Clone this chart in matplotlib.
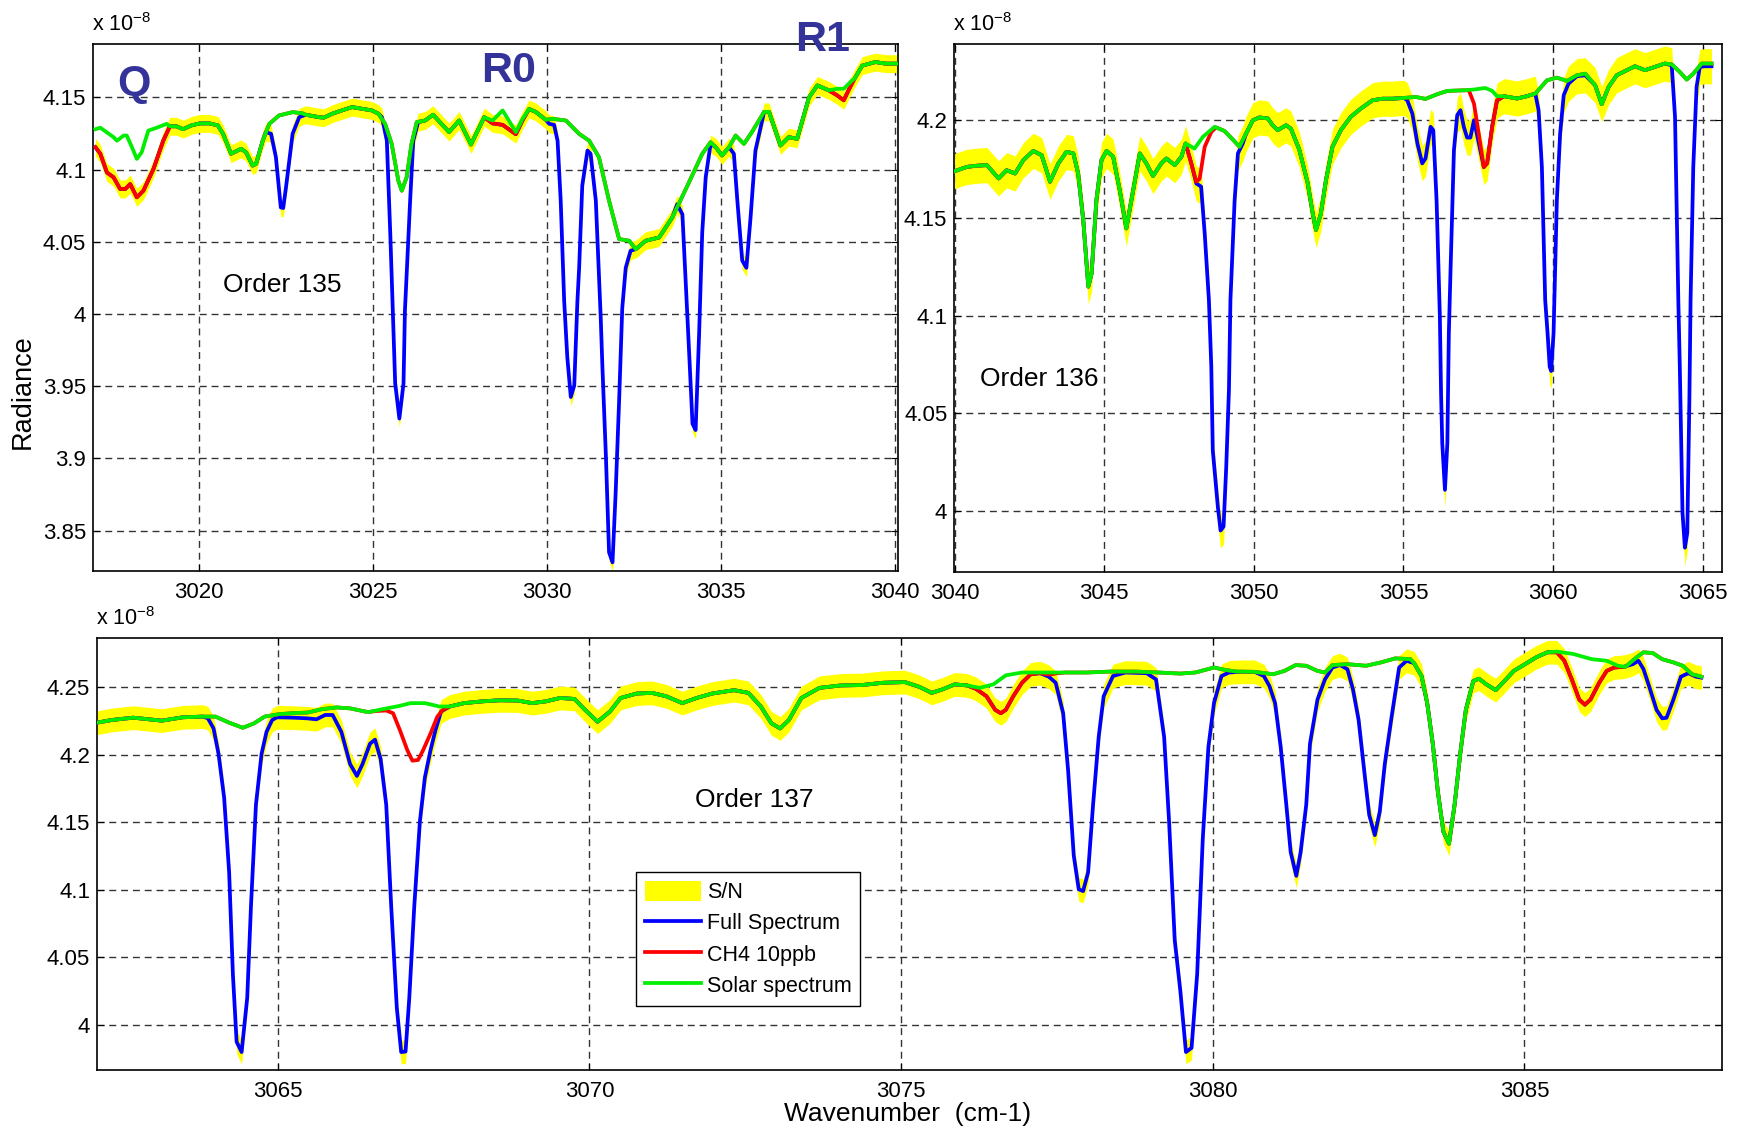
import numpy as np
import matplotlib
matplotlib.use('Agg')
import matplotlib.pyplot as plt
from matplotlib.patches import Patch
from matplotlib.lines import Line2D
from matplotlib.ticker import FuncFormatter

plt.rcParams['font.family'] = ['Liberation Sans', 'DejaVu Sans']
plt.rcParams['mathtext.default'] = 'regular'

# ---- Order 135 (values in units of 1e-8) ----
o135_wn = [3017.02, 3017.16, 3017.35, 3017.54, 3017.73, 3017.88, 3018.02, 3018.21, 3018.40, 3018.69,
           3018.97, 3019.16, 3019.35, 3019.54, 3019.78, 3020.02, 3020.30, 3020.54, 3020.69, 3020.92,
           3021.21, 3021.35, 3021.54, 3021.64, 3021.83, 3021.92, 3022.07, 3022.21, 3022.35, 3022.42,
           3022.50, 3022.69, 3022.88, 3023.07, 3023.45, 3023.59, 3023.83, 3024.11, 3024.40, 3024.69,
           3024.97, 3025.16, 3025.26, 3025.40, 3025.50, 3025.59, 3025.64, 3025.76, 3025.88, 3025.92,
           3026.07, 3026.16, 3026.30, 3026.50, 3026.73, 3026.92, 3027.19, 3027.48, 3027.82, 3028.20,
           3028.44, 3028.73, 3029.11, 3029.30, 3029.49, 3029.68, 3029.97, 3030.07, 3030.21, 3030.31,
           3030.40, 3030.50, 3030.59, 3030.69, 3030.79, 3030.88, 3030.93, 3031.02, 3031.17, 3031.26,
           3031.41, 3031.55, 3031.60, 3031.70, 3031.79, 3031.89, 3031.98, 3032.08, 3032.17, 3032.27,
           3032.41, 3032.56, 3032.84, 3033.23, 3033.61, 3033.75, 3033.90, 3034.00, 3034.10, 3034.19,
           3034.28, 3034.38, 3034.47, 3034.57, 3034.71, 3034.86, 3035.04, 3035.24, 3035.38, 3035.48,
           3035.62, 3035.74, 3035.86, 3036.00, 3036.25, 3036.39, 3036.72, 3036.96, 3037.20, 3037.54,
           3037.78, 3038.11, 3038.35, 3038.54, 3038.70, 3038.85, 3039.07, 3039.45, 3039.74, 3040.10]
o135_full = [4.1155, 4.111, 4.098, 4.0947, 4.0866, 4.0866, 4.090, 4.0808, 4.0854, 4.1005,
             4.120, 4.130, 4.130, 4.128, 4.1306, 4.132, 4.132, 4.1306, 4.1248, 4.111,
             4.1144, 4.112, 4.1028, 4.104, 4.120, 4.126, 4.1248, 4.1086, 4.0738, 4.0734,
             4.0877, 4.1248, 4.1363, 4.138, 4.1363, 4.136, 4.1387, 4.141, 4.1433, 4.1421,
             4.141, 4.1387, 4.1363, 4.120, 4.055, 3.988, 3.952, 3.9276, 3.952, 4.002,
             4.0785, 4.120, 4.1329, 4.134, 4.138, 4.133, 4.126, 4.134, 4.1174, 4.1363,
             4.132, 4.131, 4.1245, 4.134, 4.142, 4.140, 4.1345, 4.1317, 4.131, 4.120,
             4.0785, 4.009, 3.970, 3.9425, 3.9505, 4.0087, 4.0317, 4.0889, 4.1132, 4.111,
             4.0785, 3.998, 3.963, 3.9014, 3.835, 3.828, 3.876, 3.940, 4.004, 4.032,
             4.0438, 4.0449, 4.0507, 4.053, 4.0669, 4.076, 4.069, 4.020, 3.970, 3.924,
             3.9196, 3.986, 4.0565, 4.0947, 4.1178, 4.1155, 4.1098, 4.1155, 4.111, 4.0785,
             4.037, 4.032, 4.0669, 4.1132, 4.140, 4.140, 4.1167, 4.1225, 4.1213, 4.150,
             4.1583, 4.1549, 4.1514, 4.148, 4.156, 4.163, 4.172, 4.1745, 4.1734, 4.1734]
o135_solar_wn = [[3017.02, 3017.16, 3017.54, 3017.64, 3017.83, 3017.92, 3018.07, 3018.21, 3018.35, 3018.54, 3018.78, 3019.07, 3019.16],
                 [3021.83, 3022.02, 3022.30, 3022.69, 3022.97, 3023.07],
                 [3025.16, 3025.35, 3025.54, 3025.73, 3025.83, 3025.97, 3026.11, 3026.26, 3026.50],
                 [3028.20, 3028.44, 3028.73, 3029.11, 3029.30, 3029.49],
                 [3029.97, 3030.16, 3030.55, 3030.93, 3031.22, 3031.50, 3031.79, 3032.08, 3032.37, 3032.56],
                 [3033.61, 3034.09, 3034.47, 3034.71],
                 [3035.24, 3035.43, 3035.67, 3035.90, 3036.25],
                 [3038.11, 3038.35, 3038.54, 3038.78, 3038.85]]
o135_solar = [[4.128, 4.129, 4.1225, 4.120, 4.1236, 4.1236, 4.1155, 4.1074, 4.112, 4.127, 4.129, 4.1317, 4.130],
              [4.120, 4.1317, 4.1375, 4.1398, 4.139, 4.138],
              [4.1387, 4.1317, 4.1178, 4.0924, 4.0854, 4.0947, 4.1178, 4.1329, 4.134],
              [4.1363, 4.134, 4.141, 4.126, 4.135, 4.142],
              [4.1345, 4.1352, 4.134, 4.1248, 4.120, 4.1086, 4.0785, 4.0519, 4.0507, 4.0449],
              [4.0669, 4.0912, 4.1109, 4.119],
              [4.1155, 4.1236, 4.1178, 4.126, 4.140],
              [4.1549, 4.156, 4.156, 4.1618, 4.163]]
o135_ch4_wn = [[3017.02, 3017.16, 3017.35, 3017.54, 3017.73, 3017.88, 3018.02, 3018.21, 3018.40, 3018.69, 3018.97, 3019.16],
               [3028.20, 3028.44, 3028.73, 3029.11, 3029.30, 3029.49],
               [3037.78, 3038.11, 3038.35, 3038.54, 3038.70, 3038.85]]
o135_ch4 = [[4.1155, 4.111, 4.098, 4.0947, 4.0866, 4.0866, 4.090, 4.0808, 4.0854, 4.1005, 4.120, 4.130],
            [4.1363, 4.132, 4.131, 4.1245, 4.134, 4.142],
            [4.1583, 4.1549, 4.1514, 4.148, 4.156, 4.163]]

# ---- Order 136 ----
o136_wn = [3040.00, 3040.41, 3040.74, 3041.08, 3041.47, 3041.74, 3042.02, 3042.30, 3042.63, 3042.91,
           3043.19, 3043.47, 3043.74, 3043.97, 3044.13, 3044.30, 3044.47, 3044.58, 3044.74, 3044.91,
           3045.08, 3045.30, 3045.52, 3045.74, 3045.97, 3046.19, 3046.41, 3046.63, 3046.91, 3047.08,
           3047.36, 3047.58, 3047.72, 3047.91, 3048.08, 3048.24, 3048.36, 3048.50, 3048.58, 3048.63,
           3048.80, 3048.89, 3048.99, 3049.08, 3049.17, 3049.22, 3049.36, 3049.47, 3049.63, 3049.74,
           3049.97, 3050.19, 3050.47, 3050.63, 3050.80, 3051.08, 3051.24, 3051.52, 3051.80, 3051.97,
           3052.08, 3052.24, 3052.41, 3052.63, 3052.91, 3053.24, 3053.58, 3053.97, 3054.30, 3054.63,
           3055.02, 3055.13, 3055.30, 3055.47, 3055.63, 3055.74, 3055.91, 3056.00, 3056.11, 3056.22,
           3056.26, 3056.30, 3056.39, 3056.47, 3056.52, 3056.58, 3056.69, 3056.80, 3056.91, 3057.02,
           3057.13, 3057.24, 3057.36, 3057.50, 3057.69, 3057.80, 3057.97, 3058.13, 3058.36, 3058.80,
           3059.13, 3059.41, 3059.52, 3059.63, 3059.74, 3059.82, 3059.89, 3059.94, 3060.02, 3060.13,
           3060.24, 3060.36, 3060.52, 3060.80, 3061.08, 3061.41, 3061.63, 3061.86, 3062.13, 3062.47,
           3062.74, 3063.08, 3063.41, 3063.74, 3063.97, 3064.08, 3064.19, 3064.24, 3064.33, 3064.41,
           3064.49, 3064.56, 3064.60, 3064.69, 3064.80, 3064.91, 3065.08, 3065.30]
o136_full = [4.1739, 4.1761, 4.1767, 4.177, 4.1702, 4.1744, 4.1727, 4.1796, 4.1843, 4.1821,
             4.1685, 4.1779, 4.1838, 4.183, 4.1727, 4.1489, 4.1148, 4.1216, 4.1591, 4.1796,
             4.1843, 4.1813, 4.1642, 4.1446, 4.1642, 4.183, 4.1779, 4.1714, 4.1779, 4.1804,
             4.177, 4.1813, 4.1881, 4.178, 4.1676, 4.166, 4.142, 4.108, 4.074, 4.031,
             4.002, 3.990, 3.992, 4.0227, 4.062, 4.108, 4.159, 4.183, 4.188, 4.193,
             4.200, 4.2014, 4.2009, 4.1974, 4.1949, 4.1974, 4.1957, 4.185, 4.168, 4.1523,
             4.1438, 4.152, 4.169, 4.1864, 4.1949, 4.2017, 4.206, 4.2102, 4.211, 4.211,
             4.2114, 4.2102, 4.2034, 4.188, 4.1779, 4.1804, 4.1966, 4.1949, 4.159, 4.0995,
             4.060, 4.0346, 4.0108, 4.0346, 4.091, 4.125, 4.1847, 4.2026, 4.2051, 4.1966,
             4.1911, 4.1911, 4.200, 4.1898, 4.176, 4.178, 4.197, 4.210, 4.2123, 4.2111,
             4.2123, 4.2136, 4.2051, 4.176, 4.108, 4.091, 4.0739, 4.0716, 4.091, 4.159,
             4.1932, 4.2128, 4.2187, 4.2225, 4.223, 4.2179, 4.2082, 4.217, 4.223, 4.2256,
             4.2276, 4.2256, 4.2273, 4.229, 4.2281, 4.2017, 4.108, 4.0739, 3.999, 3.9812,
             3.9888, 4.057, 4.108, 4.176, 4.217, 4.2273, 4.2276, 4.2276]
o136_solar_wn = [[3047.72, 3048.02, 3048.30, 3048.69, 3049.02, 3049.30, 3049.52, 3049.74, 3049.97],
                 [3055.02, 3055.41, 3055.74, 3056.13, 3056.47, 3057.02, 3057.36, 3057.74, 3057.97, 3058.13],
                 [3059.41, 3059.80, 3060.13, 3060.47, 3060.80, 3061.08],
                 [3063.97, 3064.24, 3064.47, 3064.69, 3064.97, 3065.30]]
o136_solar = [[4.1881, 4.1855, 4.1915, 4.1966, 4.1945, 4.1901, 4.1864, 4.1932, 4.200],
              [4.2114, 4.2119, 4.2109, 4.2133, 4.215, 4.2153, 4.2157, 4.2165, 4.215, 4.2123],
              [4.2136, 4.2204, 4.2218, 4.2201, 4.223, 4.2238],
              [4.2286, 4.2247, 4.2208, 4.2238, 4.229, 4.229]]
o136_ch4_wn = [[3047.72, 3047.91, 3048.08, 3048.19, 3048.36, 3048.58, 3048.74],
               [3057.19, 3057.36, 3057.52, 3057.69, 3057.80, 3057.97, 3058.13, 3058.36]]
o136_ch4 = [[4.1881, 4.178, 4.1685, 4.170, 4.1864, 4.194, 4.1963],
            [4.2153, 4.2085, 4.193, 4.176, 4.178, 4.1966, 4.2102, 4.2123]]

# ---- Order 137 ----
o137_wn = [3062.10, 3062.34, 3062.68, 3063.14, 3063.48, 3063.80, 3063.88, 3063.97, 3064.05, 3064.14,
           3064.22, 3064.28, 3064.34, 3064.42, 3064.51, 3064.57, 3064.65, 3064.74, 3064.82, 3064.91,
           3064.99, 3065.25, 3065.48, 3065.62, 3065.76, 3065.88, 3066.02, 3066.16, 3066.27, 3066.36,
           3066.48, 3066.56, 3066.65, 3066.74, 3066.82, 3066.91, 3066.98, 3067.05, 3067.11, 3067.19,
           3067.28, 3067.36, 3067.45, 3067.53, 3067.62, 3067.76, 3067.99, 3068.28, 3068.56, 3068.85,
           3069.08, 3069.30, 3069.53, 3069.76, 3069.93, 3070.13, 3070.33, 3070.50, 3070.76, 3071.00,
           3071.23, 3071.49, 3071.72, 3071.97, 3072.32, 3072.55, 3072.75, 3072.92, 3073.06, 3073.20,
           3073.40, 3073.69, 3074.03, 3074.37, 3074.71, 3075.06, 3075.29, 3075.49, 3075.66, 3075.86,
           3076.06, 3076.20, 3076.37, 3076.51, 3076.60, 3076.68, 3076.80, 3076.94, 3077.08, 3077.23,
           3077.37, 3077.48, 3077.60, 3077.68, 3077.77, 3077.85, 3077.92, 3078.00, 3078.08, 3078.17,
           3078.25, 3078.40, 3078.60, 3078.94, 3079.09, 3079.22, 3079.30, 3079.39, 3079.48, 3079.57,
           3079.66, 3079.75, 3079.84, 3079.93, 3080.02, 3080.14, 3080.26, 3080.43, 3080.67, 3080.82,
           3080.91, 3081.00, 3081.09, 3081.18, 3081.25, 3081.34, 3081.41, 3081.50, 3081.56, 3081.68,
           3081.80, 3081.92, 3082.04, 3082.16, 3082.25, 3082.34, 3082.43, 3082.51, 3082.60, 3082.68,
           3082.76, 3082.87, 3082.99, 3083.11, 3083.23, 3083.35, 3083.44, 3083.53, 3083.61, 3083.70,
           3083.79, 3083.88, 3083.97, 3084.06, 3084.18, 3084.27, 3084.39, 3084.54, 3084.68, 3084.83,
           3085.01, 3085.19, 3085.37, 3085.52, 3085.64, 3085.76, 3085.88, 3085.97, 3086.06, 3086.20,
           3086.32, 3086.44, 3086.59, 3086.74, 3086.83, 3086.91, 3087.00, 3087.12, 3087.21, 3087.28,
           3087.39, 3087.51, 3087.63, 3087.75, 3087.84]
o137_full = [4.2239, 4.2259, 4.2276, 4.2254, 4.2279, 4.2284, 4.2271, 4.2196, 4.2007, 4.1681,
             4.1128, 4.0374, 3.9872, 3.9796, 4.0198, 4.0877, 4.1631, 4.2007, 4.2171, 4.2259,
             4.2279, 4.2276, 4.2271, 4.2264, 4.2296, 4.2296, 4.2171, 4.1932, 4.1844, 4.1932,
             4.2083, 4.2113, 4.197, 4.1631, 4.0877, 4.0123, 3.9796, 3.980, 4.0198, 4.0877,
             4.1505, 4.1832, 4.2033, 4.2183, 4.2322, 4.2359, 4.2384, 4.2397, 4.2405, 4.2403,
             4.2384, 4.2397, 4.2422, 4.2415, 4.2334, 4.2246, 4.2322, 4.2422, 4.2455, 4.246,
             4.2435, 4.2384, 4.2422, 4.2455, 4.248, 4.246, 4.2359, 4.2234, 4.2196, 4.2259,
             4.2422, 4.2497, 4.2515, 4.2518, 4.2535, 4.254, 4.2505, 4.246, 4.2485, 4.2523,
             4.2515, 4.249, 4.2435, 4.2334, 4.2309, 4.2334, 4.2435, 4.2535, 4.2598, 4.2606,
             4.258, 4.2535, 4.2309, 4.1882, 4.1254, 4.1003, 4.099, 4.1128, 4.1631, 4.2133,
             4.2435, 4.2585, 4.2611, 4.2606, 4.256, 4.2133, 4.150, 4.0626, 4.0249, 3.9796,
             3.9827, 4.0374, 4.1379, 4.2058, 4.2384, 4.2585, 4.2611, 4.2616, 4.2616, 4.2585,
             4.251, 4.2384, 4.2058, 4.1631, 4.1279, 4.1103, 4.1279, 4.1631, 4.2083, 4.241,
             4.256, 4.2648, 4.2666, 4.2636, 4.2485, 4.2259, 4.1882, 4.1555, 4.1405, 4.158,
             4.1932, 4.2284, 4.2648, 4.2698, 4.268, 4.2585, 4.2384, 4.2083, 4.1731, 4.143,
             4.1342, 4.1631, 4.2007, 4.2334, 4.2548, 4.2565, 4.2523, 4.248, 4.2548, 4.2623,
             4.2673, 4.2724, 4.2761, 4.2761, 4.2699, 4.256, 4.241, 4.2372, 4.241, 4.2535,
             4.2623, 4.2648, 4.2653, 4.2673, 4.2698, 4.2636, 4.251, 4.2334, 4.2271, 4.2275,
             4.241, 4.258, 4.2606, 4.258, 4.2573]
o137_solar_wn = [[3063.80, 3064.00, 3064.22, 3064.44, 3064.62, 3064.79, 3065.02, 3065.25, 3065.48, 3065.71,
                  3065.94, 3066.16, 3066.45, 3066.68, 3066.96, 3067.13, 3067.36, 3067.59, 3067.76],
                 [3076.06, 3076.26, 3076.48, 3076.68, 3076.94, 3077.23, 3077.63, 3077.97, 3078.37, 3078.77,
                  3079.13, 3079.48, 3079.72, 3080.02, 3080.20, 3080.38, 3080.67, 3080.97, 3081.15, 3081.33,
                  3081.50, 3081.68, 3081.80, 3081.92, 3082.16, 3082.46, 3082.70, 3082.93, 3083.17, 3083.23],
                 [3085.37, 3085.52, 3085.78, 3086.08, 3086.32, 3086.50, 3086.62, 3086.80, 3086.91, 3087.06,
                  3087.21, 3087.39, 3087.54, 3087.69, 3087.84]]
o137_solar = [[4.2284, 4.2284, 4.2239, 4.2201, 4.2234, 4.2284, 4.2302, 4.231, 4.2314, 4.2339,
               4.2352, 4.2345, 4.2317, 4.2339, 4.2364, 4.2384, 4.2384, 4.2359, 4.2359],
              [4.2515, 4.2497, 4.2523, 4.259, 4.2611, 4.2611, 4.2611, 4.2611, 4.2618, 4.2618,
               4.2611, 4.2603, 4.2611, 4.2648, 4.263, 4.2618, 4.2616, 4.2598, 4.2623, 4.2666,
               4.2661, 4.2623, 4.2611, 4.2666, 4.2673, 4.2661, 4.2686, 4.2716, 4.271, 4.268],
              [4.2761, 4.2766, 4.2749, 4.271, 4.2698, 4.2661, 4.2653, 4.2724, 4.2761, 4.2755,
               4.271, 4.2686, 4.2661, 4.2598, 4.258]]
o137_ch4_wn = [[3066.56, 3066.74, 3066.85, 3066.96, 3067.08, 3067.16, 3067.25, 3067.33, 3067.45, 3067.56, 3067.65, 3067.76],
               [3076.06, 3076.20, 3076.37, 3076.51, 3076.60, 3076.68, 3076.80, 3076.94, 3077.08, 3077.23, 3077.37, 3077.50],
               [3085.52, 3085.64, 3085.76, 3085.88, 3085.97, 3086.06, 3086.20, 3086.32, 3086.44, 3086.59]]
o137_ch4 = [[4.2325, 4.2329, 4.2309, 4.2183, 4.2033, 4.1957, 4.1962, 4.2033, 4.2158, 4.2284, 4.2334, 4.2359],
            [4.2515, 4.249, 4.2435, 4.2334, 4.2309, 4.2334, 4.2435, 4.2535, 4.2598, 4.2606, 4.2595, 4.2605],
            [4.2761, 4.2699, 4.256, 4.241, 4.2372, 4.241, 4.2535, 4.2623, 4.2648, 4.2653]]

legend_labels = ['S/N', 'Full Spectrum', 'CH4 10ppb', 'Solar spectrum']


def merge(base_x, base_y, seg_x, seg_y):
    # replace the base curve by the given pieces inside each piece's range
    bx = np.asarray(base_x, float)
    by = np.asarray(base_y, float)
    keep = np.ones(len(bx), bool)
    xs, ys = [], []
    for px, py in zip(seg_x, seg_y):
        px = np.asarray(px, float)
        keep &= ~((bx >= px.min()) & (bx <= px.max()))
        xs.append(px)
        ys.append(np.asarray(py, float))
    xs.append(bx[keep])
    ys.append(by[keep])
    x = np.concatenate(xs)
    y = np.concatenate(ys)
    o = np.argsort(x, kind='stable')
    return x[o], y[o]


fig = plt.figure(figsize=(17.39, 11.33), dpi=100)
ax1 = fig.add_axes([0.05348, 0.49603, 0.46291, 0.46514])
ax2 = fig.add_axes([0.54876, 0.49488, 0.44146, 0.46628])
ax3 = fig.add_axes([0.05578, 0.05561, 0.93445, 0.38129])

c_yel, c_blue, c_red, c_green = '#ffff00', '#0000ff', '#ff0000', '#00ee00'
lw = 2.7

panels = [
    (ax1, o135_wn, o135_full, o135_solar_wn, o135_solar, o135_ch4_wn, o135_ch4, 0.0062,
     (3016.95, 3040.1), (3.822, 4.187), [3020, 3025, 3030, 3035, 3040],
     [3.85, 3.9, 3.95, 4.0, 4.05, 4.1, 4.15]),
    (ax2, o136_wn, o136_full, o136_solar_wn, o136_solar, o136_ch4_wn, o136_ch4, 0.009,
     (3039.99, 3065.65), (3.9686, 4.239), [3040, 3045, 3050, 3055, 3060, 3065],
     [4.0, 4.05, 4.1, 4.15, 4.2]),
    (ax3, o137_wn, o137_full, o137_solar_wn, o137_solar, o137_ch4_wn, o137_ch4, 0.0088,
     (3062.1, 3088.17), (3.9663, 4.2867), [3065, 3070, 3075, 3080, 3085],
     [4.0, 4.05, 4.1, 4.15, 4.2, 4.25]),
]

for ax, wn, full, swn, sol, cwn, ch4, band, xl, yl, xt, yt in panels:
    wn = np.asarray(wn, float)
    full = np.asarray(full, float)
    sx, sy = merge(wn, full, swn, sol)
    cx, cy = merge(sx, sy, cwn, ch4)
    ax.fill_between(wn, full - band, full + band, color=c_yel, lw=0, zorder=2)
    ax.plot(wn, full, color=c_blue, lw=lw, zorder=3)
    ax.plot(cx, cy, color=c_red, lw=lw, zorder=4)
    ax.plot(sx, sy, color=c_green, lw=lw, zorder=5)
    ax.set_xlim(*xl)
    ax.set_ylim(*yl)
    ax.set_xticks(xt)
    ax.set_yticks(yt)
    ax.xaxis.set_major_formatter(FuncFormatter(lambda v, p: f'{v:g}'))
    ax.yaxis.set_major_formatter(FuncFormatter(lambda v, p: f'{v:g}'))
    ax.tick_params(direction='in', top=True, right=True, length=5, width=0.8,
                   labelsize=16, pad=5)
    ax.tick_params(axis='x', pad=8)
    ax.set_axisbelow(True)
    ax.grid(True, linestyle=(0, (5, 3.5)), color='#333333', linewidth=1.0)
    for s in ax.spines.values():
        s.set_linewidth(1.2)
    ax.annotate('x 10$^{-8}$', xy=(0, 1), xycoords='axes fraction', xytext=(-1, 6),
                textcoords='offset points', ha='left', va='bottom', fontsize=15.5)

lab_col = '#333399'
ax1.text(3018.12, 4.1514, 'Q', ha='center', va='baseline', fontsize=31,
         fontweight='bold', color=lab_col, zorder=6)
ax1.text(3028.9, 4.161, 'R0', ha='center', va='baseline', fontsize=31,
         fontweight='bold', color=lab_col, zorder=6)
ax1.text(3037.92, 4.182, 'R1', ha='center', va='baseline', fontsize=31,
         fontweight='bold', color=lab_col, zorder=6, clip_on=False)

ax1.text(3022.39, 4.0155, 'Order 135', ha='center', va='baseline', fontsize=19)
ax2.text(3042.82, 4.064, 'Order 136', ha='center', va='baseline', fontsize=19)
ax3.text(3072.64, 4.161, 'Order 137', ha='center', va='baseline', fontsize=19)

fig.text(0.0132, 0.654, 'Radiance', rotation=90, ha='center', va='center', fontsize=19.5)
fig.text(907.5 / 1739, 1 - 1114 / 1133, 'Wavenumber  (cm-1)', ha='center', va='center',
         fontsize=19)

handles = [Patch(facecolor=c_yel, edgecolor='none'),
           Line2D([], [], color=c_blue, lw=lw),
           Line2D([], [], color=c_red, lw=lw),
           Line2D([], [], color=c_green, lw=lw)]
leg = ax3.legend(handles, legend_labels, loc='upper left', bbox_to_anchor=(0.3317, 0.4583),
                 borderaxespad=0, fontsize=15.5, handlelength=2.6, handleheight=1.05,
                 handletextpad=0.3, labelspacing=0.42, borderpad=0.4, fancybox=False,
                 framealpha=1, edgecolor='black')
leg.get_frame().set_linewidth(1.0)
leg.set_zorder(10)

fig.savefig('out.png', dpi=100)
